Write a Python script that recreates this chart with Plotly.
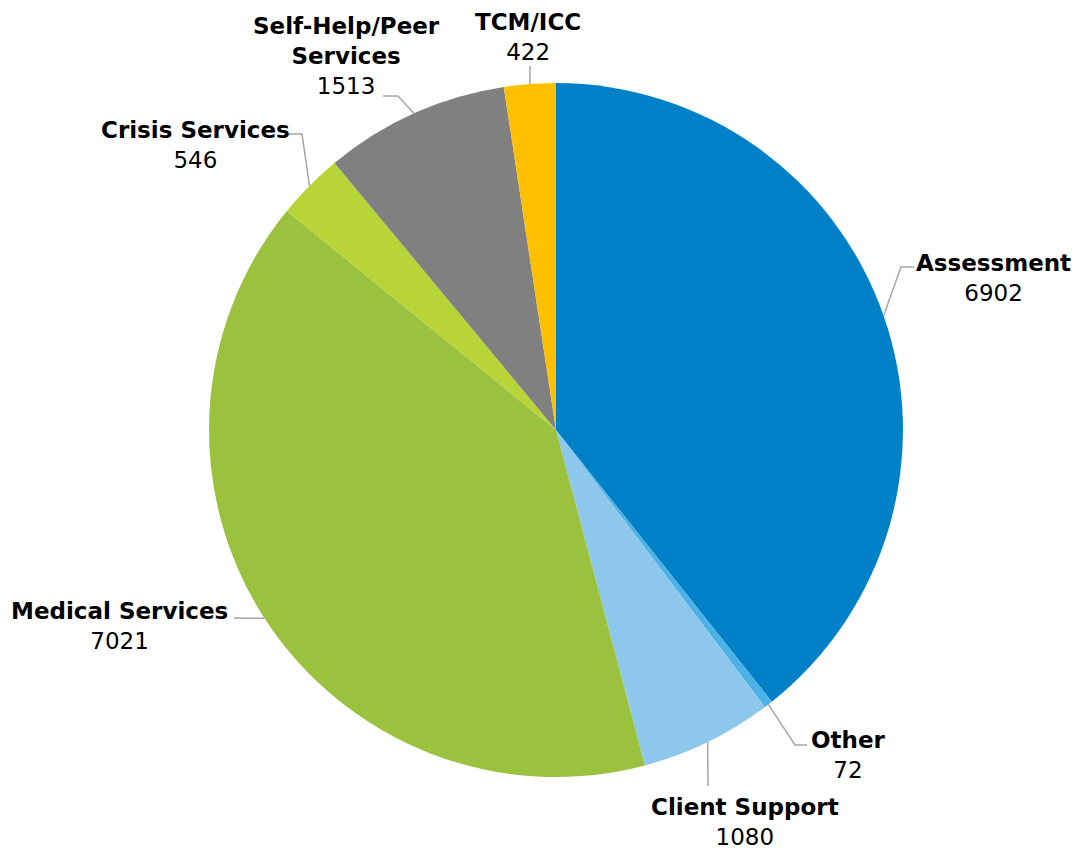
import math
import plotly.graph_objects as go

# ---- data ----
labels = ["Assessment", "Other", "Client Support", "Medical Services",
          "Crisis Services", "Self-Help/Peer Services", "TCM/ICC"]
values = [6902, 72, 1080, 7021, 546, 1513, 422]
display_labels = ["Assessment", "Other", "Client Support", "Medical Services",
                  "Crisis Services", "Self-Help/Peer<br>Services", "TCM/ICC"]
colors = ["#0080C6", "#4BB2E8", "#8DC8EC", "#9AC23F",
          "#B9D437", "#808080", "#FFC000"]

# ---- layout / style ----
W, H = 1074, 852
CX, CY, R = 556, 430, 347
# label block centre, leader elbow, leader end (pixels)
label_style = [
    dict(c=(993, 278), elbow=(901, 267), end=(914, 267)),
    dict(c=(848, 755), elbow=(795, 745), end=(807, 745)),
    dict(c=(745, 822), elbow=(708, 786), end=(708, 786)),
    dict(c=(119, 626), elbow=(234, 618), end=(234, 618)),
    dict(c=(195, 145), elbow=(302, 134), end=(288, 134)),
    dict(c=(346, 56), elbow=(398, 96), end=(383, 96)),
    dict(c=(528, 37), elbow=(530, 66), end=(530, 66)),
]

FONT = "DejaVu Sans"


def px(x, y):
    return x / W, 1 - y / H


fig = go.Figure(go.Pie(
    labels=labels, values=values, sort=False, direction="clockwise",
    rotation=0, marker=dict(colors=colors, line=dict(width=0)),
    textinfo="none", hoverinfo="label+value", showlegend=False,
    domain=dict(x=[(CX - R) / W, (CX + R) / W],
                y=[1 - (CY + R) / H, 1 - (CY - R) / H]),
))

total = sum(values)
cum = 0
shapes, annotations = [], []
for v, lab, st in zip(values, display_labels, label_style):
    mid = (cum + v / 2) / total * 2 * math.pi
    cum += v
    sx, sy = CX + R * math.sin(mid), CY - R * math.cos(mid)
    pts = [(sx, sy), st["elbow"], st["end"]]
    path = "M " + " L ".join(f"{px(x, y)[0]:.5f},{px(x, y)[1]:.5f}" for x, y in pts)
    shapes.append(dict(type="path", path=path, xref="paper", yref="paper",
                       line=dict(color="#A6A6A6", width=1.5)))
    ax, ay = px(*st["c"])
    annotations.append(dict(
        x=ax, y=ay, xref="paper", yref="paper", xanchor="center", yanchor="middle",
        showarrow=False, align="center",
        text=f"<b>{lab}</b><br>{v}",
        font=dict(family=FONT, size=23, color="#000000"),
    ))

fig.update_layout(
    width=W, height=H, margin=dict(l=0, r=0, t=0, b=0),
    paper_bgcolor="white", plot_bgcolor="white",
    shapes=shapes, annotations=annotations,
)
fig.write_html("out.html", config={"displayModeBar": False},
               post_script="document.body.style.margin='0';document.body.style.overflow='hidden';")
